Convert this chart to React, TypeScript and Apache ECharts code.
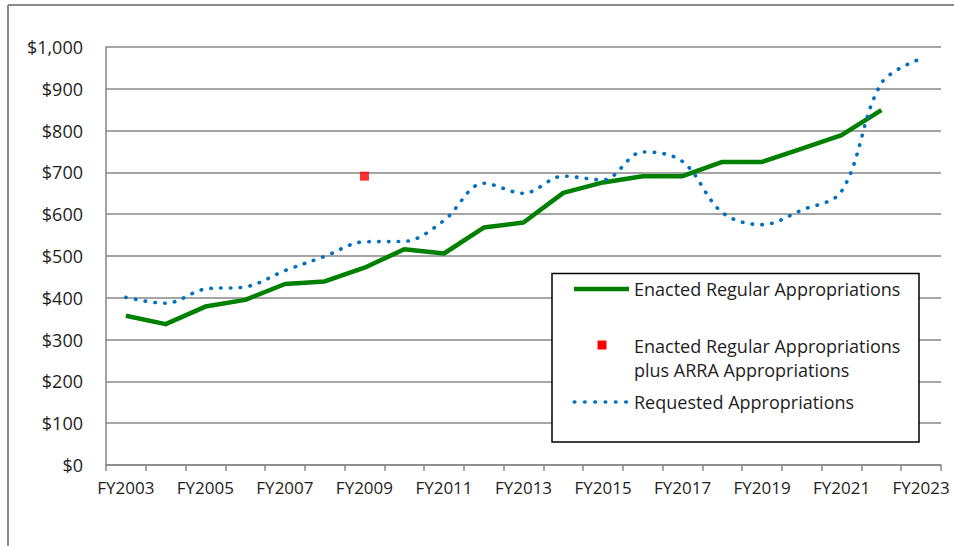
import React, { useEffect, useRef } from "react";
import * as echarts from "echarts";

const categories = [
  "FY2003", "FY2004", "FY2005", "FY2006", "FY2007", "FY2008", "FY2009",
  "FY2010", "FY2011", "FY2012", "FY2013", "FY2014", "FY2015", "FY2016",
  "FY2017", "FY2018", "FY2019", "FY2020", "FY2021", "FY2022", "FY2023",
];

const enactedRegular = [
  357, 337, 379, 395, 433, 439, 472, 516, 506, 568, 580, 651, 676, 691,
  691, 725, 725, 757, 789, 849, null,
];

const enactedPlusArra = [
  null, null, null, null, null, null, 691, null, null, null, null, null,
  null, null, null, null, null, null, null, null, null,
];

const requested = [
  401, 387, 421, 426, 465, 499, 534, 535, 585, 674, 650, 691, 682, 749,
  726, 604, 575, 610, 655, 913, 972,
];

const seriesNames = [
  "Enacted Regular Appropriations",
  "Enacted Regular Appropriations\nplus ARRA Appropriations",
  "Requested Appropriations",
];

const FONT = "'Open Sans', 'Noto Sans', sans-serif";
const TEXT = "#1e1e1e";
const GRAY = "#878787";

export default function App() {
  const ref = useRef<HTMLDivElement>(null);

  useEffect(() => {
    if (!ref.current) return;
    const chart = echarts.init(ref.current, null, { renderer: "svg" });
    chart.setOption({
      animation: false,
      backgroundColor: "#ffffff",
      textStyle: { fontFamily: FONT },
      grid: { left: 106, right: 13, top: 47, bottom: 81, containLabel: false },
      xAxis: {
        type: "category",
        data: categories,
        boundaryGap: true,
        axisLine: { show: true, lineStyle: { color: GRAY, width: 1.5 } },
        axisTick: {
          show: true,
          interval: 0,
          alignWithLabel: false,
          length: 6,
          lineStyle: { color: GRAY, width: 1.5 },
        },
        axisLabel: {
          interval: 1,
          margin: 14,
          fontSize: 17,
          color: TEXT,
          fontFamily: FONT,
        },
        splitLine: { show: false },
      },
      yAxis: {
        type: "value",
        min: 0,
        max: 1000,
        interval: 100,
        axisLine: { show: true, lineStyle: { color: GRAY, width: 1.5 } },
        axisTick: { show: false },
        axisLabel: {
          margin: 23,
          fontSize: 18,
          color: TEXT,
          fontFamily: FONT,
          formatter: (v: number) => "$" + v.toLocaleString("en-US"),
        },
        splitLine: { show: true, lineStyle: { color: GRAY, width: 1.5 } },
      },
      series: [
        {
          name: seriesNames[0],
          type: "line",
          data: enactedRegular,
          symbol: "none",
          lineStyle: { color: "#008000", width: 4.5, join: "round" },
          itemStyle: { color: "#008000" },
        },
        {
          name: seriesNames[1],
          type: "scatter",
          data: enactedPlusArra,
          symbol: "rect",
          symbolSize: 9,
          itemStyle: { color: "#ff0000" },
        },
        {
          name: seriesNames[2],
          type: "line",
          data: requested,
          symbol: "none",
          smooth: 0.35,
          lineStyle: {
            color: "#0070c0",
            width: 3.6,
            type: [0.5, 9.3],
            cap: "round",
          },
          itemStyle: { color: "#0070c0" },
        },
      ],
      graphic: [
        {
          type: "line",
          z: 100,
          shape: { x1: 8, y1: 5, x2: 954, y2: 5 },
          style: { stroke: "#8a8a8a", lineWidth: 2 },
        },
        {
          type: "line",
          z: 100,
          shape: { x1: 8, y1: 5, x2: 8, y2: 546 },
          style: { stroke: "#8a8a8a", lineWidth: 2 },
        },
        {
          type: "rect",
          z: 100,
          shape: { x: 552, y: 273.5, width: 367, height: 168.5 },
          style: { fill: "#ffffff", stroke: "#000000", lineWidth: 1.5 },
        },
        {
          type: "line",
          z: 101,
          shape: { x1: 574, y1: 289, x2: 629, y2: 289 },
          style: { stroke: "#008000", lineWidth: 4.5 },
        },
        {
          type: "rect",
          z: 101,
          shape: { x: 597.5, y: 340.5, width: 9, height: 9 },
          style: { fill: "#ff0000" },
        },
        {
          type: "line",
          z: 101,
          shape: { x1: 574.3, y1: 402, x2: 627, y2: 402 },
          style: {
            stroke: "#0070c0",
            lineWidth: 3.6,
            lineDash: [0.5, 9.8],
            lineCap: "round",
          },
        },
        {
          type: "text",
          z: 101,
          x: 634,
          y: 289,
          style: {
            text: seriesNames[0],
            fill: TEXT,
            fontSize: 18,
            fontFamily: FONT,
            verticalAlign: "middle",
          },
        },
        {
          type: "text",
          z: 101,
          x: 634,
          y: 333.5,
          style: {
            text: seriesNames[1],
            fill: TEXT,
            fontSize: 18,
            lineHeight: 24,
            fontFamily: FONT,
            verticalAlign: "top",
          },
        },
        {
          type: "text",
          z: 101,
          x: 634,
          y: 402,
          style: {
            text: seriesNames[2],
            fill: TEXT,
            fontSize: 18,
            fontFamily: FONT,
            verticalAlign: "middle",
          },
        },
      ],
    });
    return () => chart.dispose();
  }, []);

  return (
    <div
      ref={ref}
      style={{
        position: "absolute",
        left: 0,
        top: 0,
        width: 954,
        height: 546,
        background: "#ffffff",
      }}
    />
  );
}
